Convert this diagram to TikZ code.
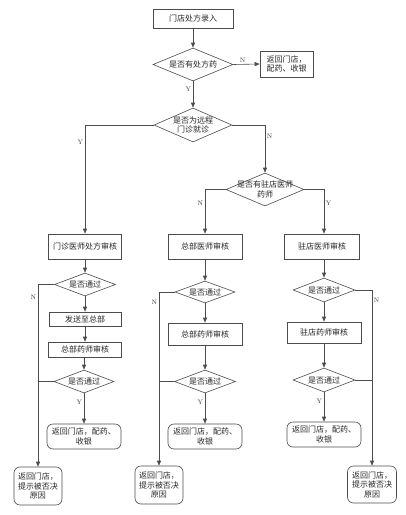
\documentclass[tikz,border=0pt]{standalone}
\usepackage{fontspec}
\newfontfamily\cjk{Noto Sans CJK SC}
\usetikzlibrary{arrows.meta, positioning, shapes.geometric}
\tikzset{
  flow/.style = {draw=black!70, line width=0.6pt, -{Triangle[length=5pt, width=4pt]}},
  joint/.style = {draw=black!70, line width=0.6pt},
  yn/.style = {font=\fontsize{6.5}{7}\selectfont, text=black!80, inner sep=1.5pt},
  cjktext/.style = {font=\cjk\fontsize{8}{9.5}\selectfont, text=black!85, align=center},
  procbox/.style n args={2}{draw=black!70, line width=0.6pt, rectangle, minimum width=#1, minimum height=#2, inner sep=1pt, cjktext},
  termbox/.style n args={2}{procbox={#1}{#2}, rounded corners=6pt},
  decision/.style n args={3}{diamond, draw=black!70, line width=0.6pt, minimum width=#1, minimum height=#2, inner sep=0pt, label={[cjktext]center:#3}},
}

\begin{document}
\begin{tikzpicture}[x=1pt, y=-1pt]
			\useasboundingbox (0,0) rectangle (406,515);
			% main line
			\node[procbox={80pt}{19pt}] (entry) at (193,18.5) {门店处方录入};
			\node[decision={80pt}{33pt}{是否有处方药}] (hasrx) at (193,64.5) {};
			\node[procbox={53pt}{26pt}] (backtop) at (286.5,64) {返回门店，\\配药、收银};
			\node[decision={78pt}{34pt}{是否为远程\\门诊就诊}] (remote) at (193,125) {};
			\node[decision={78pt}{33pt}{是否有驻店医师\\药师}] (resident) at (265,189.5) {};
			\node[procbox={73pt}{25pt}] (clinicdoc) at (85,246.5) {门诊医师处方审核};
			\node[procbox={74pt}{25pt}] (hqdoc) at (205,246.5) {总部医师审核};
			\node[procbox={75pt}{25pt}] (resdoc) at (322,246.5) {驻店医师审核};
			% left column
			\node[decision={61pt}{23pt}{是否通过}] (okA) at (85,284.5) {};
			\node[procbox={72pt}{14pt}] (send) at (85,319) {发送至总部};
			\node[procbox={73pt}{15pt}] (hqphA) at (85,349.5) {总部药师审核};
			\node[decision={60pt}{23pt}{是否通过}] (okB) at (84,381.5) {};
			\node[termbox={74pt}{25pt}] (doneA) at (84,436.5) {返回门店，配药、\\收银};
			\node[termbox={48pt}{38pt}] (rejA) at (38,486) {返回门店，\\提示被否决\\原因};
			% middle column
			\node[decision={60pt}{22pt}{是否通过}] (okC) at (205,292) {};
			\node[procbox={74pt}{22pt}] (hqphB) at (205,334) {总部药师审核};
			\node[decision={61pt}{23pt}{是否通过}] (okD) at (205,381.5) {};
			\node[termbox={74pt}{25pt}] (doneB) at (205,436.5) {返回门店，配药、\\收银};
			\node[termbox={48pt}{38pt}] (rejB) at (159,485) {返回门店，\\提示被否决\\原因};
			% right column
			\node[decision={62pt}{24pt}{是否通过}] (okE) at (324,290) {};
			\node[procbox={74pt}{21pt}] (resph) at (324,332.5) {驻店药师审核};
			\node[decision={62pt}{24pt}{是否通过}] (okF) at (324,380) {};
			\node[termbox={74pt}{25pt}] (doneC) at (324,434.5) {返回门店，配药、\\收银};
			\node[termbox={49pt}{37pt}] (rejC) at (372,484.5) {返回门店，\\提示被否决\\原因};

			\draw[flow] (entry) -- (hasrx);
			\draw[flow] (hasrx.east) -- (backtop.west) node [yn, above, pos=0.35] {N};
			\draw[flow] (hasrx.south) -- (remote.north) node [yn, left, pos=0.3] {Y};
			\draw[flow] (remote.west) -| (clinicdoc.north) node [yn, left, pos=0.58] {Y};
			\draw[flow] (remote.east) -| (resident.north) node [yn, right, pos=0.62] {N};
			\draw[flow] (resident.west) -| (hqdoc.north) node [yn, left, pos=0.66] {N};
			\draw[flow] (resident.east) -| (resdoc.north -| okE) node [yn, right, pos=0.66] {Y};

			\draw[flow] (clinicdoc) -- (okA);
			\draw[flow] (okA.west) -| (rejA.north) node [yn, left, pos=0.535] {N};
			\draw[flow] (okA) -- (send);
			\draw[flow] (send) -- (hqphA);
			\draw[flow] (hqphA.south -| okB) -- (okB);
			\draw[joint] (okB.west) -- (okB.west -| rejA.north);
			\draw[flow] (okB) -- (doneA) node [yn, left, pos=0.3] {Y};

			\draw[flow] (hqdoc) -- (okC);
			\draw[flow] (okC.west) -| (rejB.north) node [yn, left, pos=0.53] {N};
			\draw[flow] (okC) -- (hqphB);
			\draw[flow] (hqphB) -- (okD);
			\draw[joint] (okD.west) -- (okD.west -| rejB.north);
			\draw[flow] (okD) -- (doneB) node [yn, left, pos=0.3] {Y};

			\draw[flow] (resdoc.south -| okE) -- (okE);
			\draw[flow] (okE.east) -| (rejC.north) node [yn, right, pos=0.53] {N};
			\draw[flow] (okE) -- (resph);
			\draw[flow] (resph) -- (okF);
			\draw[joint] (okF.east) -- (okF.east -| rejC.north);
			\draw[flow] (okF) -- (doneC) node [yn, left, pos=0.3] {Y};
		\end{tikzpicture}
\end{document}
